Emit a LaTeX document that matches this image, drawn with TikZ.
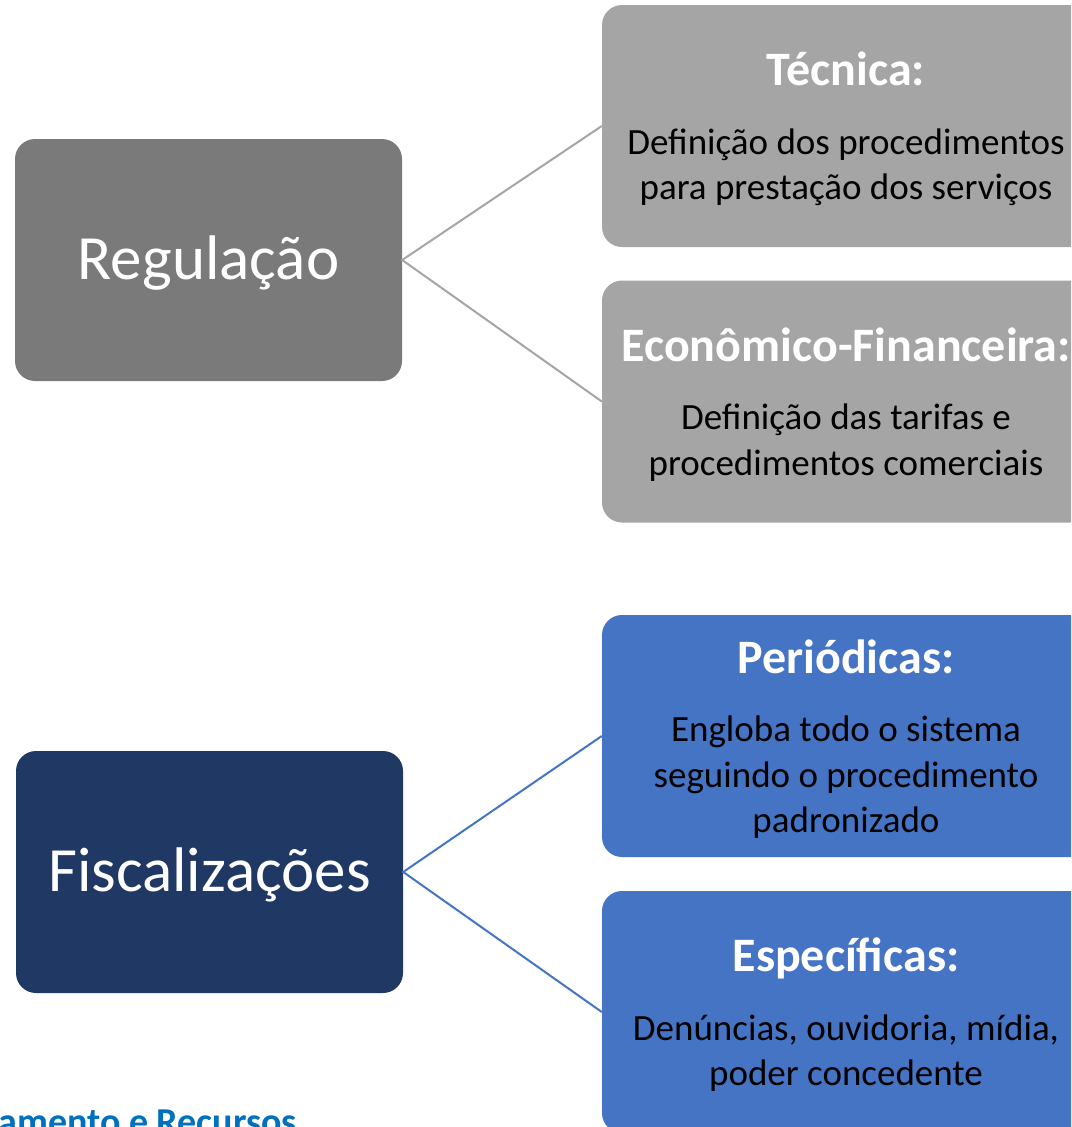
\documentclass[tikz,border=0pt]{standalone}
\usepackage{fontspec}
\setmainfont{Carlito}
\definecolor{regdark}{RGB}{122,122,122}
\definecolor{reglight}{RGB}{165,165,165}
\definecolor{fisdark}{RGB}{32,56,100}
\definecolor{fislight}{RGB}{70,116,196}
\definecolor{footblue}{RGB}{0,112,192}
\newcommand{\subtitle}[1]{{\fontsize{48}{56}\selectfont\bfseries\color{white}#1}}
\begin{document}
\begin{tikzpicture}[x=1pt,y=-1pt,
  mainbox/.style={rounded corners=20pt, minimum width=387pt, minimum height=242pt, inner sep=0pt},
  maintext/.style={text=white, font=\fontsize{63}{75}\selectfont, inner sep=0pt},
  subbox/.style={rounded corners=20pt, minimum width=488pt, minimum height=242pt, inner sep=0pt},
  subtext/.style={align=center, inner sep=0pt, text=black, font=\fontsize{37}{45.5}\selectfont},
  conn/.style={line width=2pt}
]
\useasboundingbox (0,0) rectangle (1071,1127);
\clip (0,0) rectangle (1071,1127);

% Regulação group
\node[mainbox, fill=regdark] (reg) at (208.5,260) {};
\node[maintext] (regt) at ([yshift=-3pt]reg.center) {Regulação};
\node[subbox, fill=reglight] (tec) at (846,126) {};
\node[subtext] (tect) at ([yshift=-3pt]tec.center)
  {\subtitle{Técnica:}\\[23pt]Definição dos procedimentos\\para prestação dos serviços};
\node[subbox, fill=reglight] (eco) at (846,401.5) {};
\node[subtext] (ecot) at ([yshift=-3pt]eco.center)
  {\subtitle{Econômico-Financeira:}\\[23pt]Definição das tarifas e\\procedimentos comerciais};
\draw[conn, reglight] (tec.west) -- (reg.east) -- (eco.west);

% Fiscalizações group
\node[mainbox, fill=fisdark] (fis) at (209.5,872) {};
\node[maintext] (fist) at ([yshift=-3pt]fis.center) {Fiscalizações};
\node[subbox, fill=fislight] (per) at (846,736) {};
\node[subtext] (pert) at ([yshift=-3pt]per.center)
  {\subtitle{Periódicas:}\\[23pt]Engloba todo o sistema\\seguindo o procedimento\\padronizado};
\node[subbox, fill=fislight] (esp) at (846,1012) {};
\node[subtext] (espt) at ([yshift=-3pt]esp.center)
  {\subtitle{Específicas:}\\[23pt]Denúncias, ouvidoria, mídia,\\poder concedente};
\draw[conn, fislight] (per.west) -- (fis.east) -- (esp.west);

% footer fragment
\node[anchor=base east, inner sep=0pt, text=footblue,
  font=\fontsize{38}{45}\selectfont\bfseries] (foot) at (297,1134) {amento e Recursos};
\end{tikzpicture}
\end{document}
